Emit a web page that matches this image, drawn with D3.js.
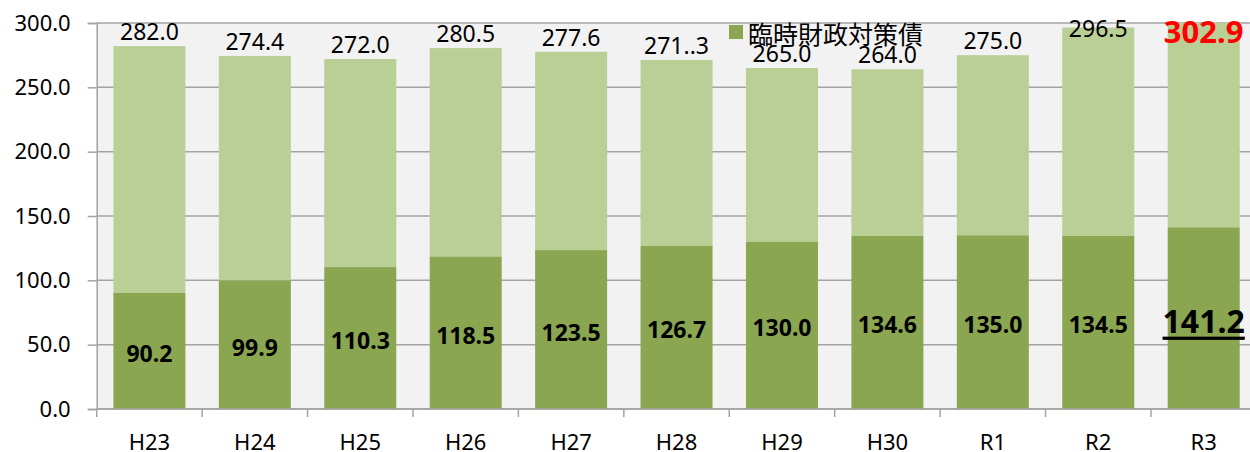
<!DOCTYPE html>
<html>
<head>
<meta charset="utf-8">
<script src="https://cdn.jsdelivr.net/npm/d3@7"></script>
<style>
	body { margin: 0; background: white; }
	svg { display: block; }
</style>
</head>
<body>
<svg></svg>
<script>
// chart data
var categories = ["H23", "H24", "H25", "H26", "H27", "H28", "H29", "H30", "R1", "R2", "R3"];
var bondValues = [90.2, 99.9, 110.3, 118.5, 123.5, 126.7, 130.0, 134.6, 135.0, 134.5, 141.2];
var totalValues = [282.0, 274.4, 272.0, 280.5, 277.6, 271.3, 265.0, 264.0, 275.0, 296.5, 302.9];
var totalLabels = ["282.0", "274.4", "272.0", "280.5", "277.6", "271..3", "265.0", "264.0", "275.0", "296.5", "302.9"];
var yTicks = [0, 50, 100, 150, 200, 250, 300];
var legendLabel = "臨時財政対策債";

var width = 1250, height = 452;
var plotLeft = 96.7, plotTop = 23, plotBottom = 409, plotRight = 1256.4;
var darkGreen = "#8aa651", lightGreen = "#b9cf96", gridColor = "#a3a3a3";
var numFont = "'Noto Sans', 'Liberation Sans', sans-serif";
var last = categories.length - 1;

var svg = d3.select("svg").attr("width", width).attr("height", height);

var x = d3.scaleBand().domain(categories).range([plotLeft, plotRight]).paddingInner(0.317).paddingOuter(0.1585);
var y = d3.scaleLinear().domain([0, 300]).range([plotBottom, plotTop]);

var rows = categories.map(function(c, i){
	return {cat: c, bond: bondValues[i], total: totalValues[i], label: totalLabels[i], i: i};
});

// plot background
svg.append("rect")
	.attr("x", plotLeft).attr("y", plotTop)
	.attr("width", width - plotLeft).attr("height", plotBottom - plotTop)
	.attr("fill", "#f2f2f2");

svg.append("clipPath").attr("id", "plotclip")
	.append("rect")
	.attr("x", plotLeft).attr("y", plotTop)
	.attr("width", width - plotLeft).attr("height", plotBottom - plotTop);

// gridlines
svg.append("g").selectAll("line").data(yTicks).enter().append("line")
	.attr("x1", plotLeft).attr("x2", width)
	.attr("y1", function(d){return y(d)})
	.attr("y2", function(d){return y(d)})
	.attr("stroke", gridColor).attr("stroke-width", 1.5);

// bars
var bars = svg.append("g").attr("clip-path", "url(#plotclip)");
bars.selectAll("rect.total").data(rows).enter().append("rect")
	.attr("class", "total")
	.attr("x", function(d){return x(d.cat)})
	.attr("width", x.bandwidth())
	.attr("y", function(d){return y(d.total)})
	.attr("height", function(d){return y(d.bond) - y(d.total)})
	.attr("fill", lightGreen);
bars.selectAll("rect.bond").data(rows).enter().append("rect")
	.attr("class", "bond")
	.attr("x", function(d){return x(d.cat)})
	.attr("width", x.bandwidth())
	.attr("y", function(d){return y(d.bond)})
	.attr("height", function(d){return y(0) - y(d.bond)})
	.attr("fill", darkGreen);

// y axis
var yAxis = svg.append("g")
	.attr("transform", "translate(" + plotLeft + ",0)")
	.call(d3.axisLeft(y).tickValues(yTicks).tickFormat(d3.format(".1f")).tickSize(9).tickPadding(17));
yAxis.select(".domain").attr("stroke", gridColor).attr("stroke-width", 1.5);
yAxis.selectAll(".tick line").attr("stroke", gridColor).attr("stroke-width", 1.5);
yAxis.selectAll("text")
	.attr("font-family", numFont).attr("font-size", 22).attr("fill", "#000");

// x axis
var xAxis = svg.append("g")
	.attr("transform", "translate(0," + plotBottom + ")")
	.call(d3.axisBottom(x).tickSize(0).tickPadding(25));
xAxis.select(".domain").remove();
xAxis.selectAll("text")
	.attr("font-family", numFont).attr("font-size", 22).attr("fill", "#000");
svg.append("line")
	.attr("x1", plotLeft).attr("x2", width)
	.attr("y1", plotBottom).attr("y2", plotBottom)
	.attr("stroke", gridColor).attr("stroke-width", 1.5);
svg.append("g").selectAll("line").data(categories).enter().append("line")
	.attr("x1", function(d){return x(d) + x.bandwidth() / 2 - x.step() / 2})
	.attr("x2", function(d){return x(d) + x.bandwidth() / 2 - x.step() / 2})
	.attr("y1", plotBottom).attr("y2", plotBottom + 8)
	.attr("stroke", gridColor).attr("stroke-width", 1.5);

// bond value labels (centre of dark segment)
svg.append("g").selectAll("text").data(rows).enter().append("text")
	.text(function(d){return d.bond.toFixed(1)})
	.attr("x", function(d){return x(d.cat) + x.bandwidth() / 2})
	.attr("y", function(d){return (y(0) + y(d.bond)) / 2 + 2})
	.attr("text-anchor", "middle")
	.attr("dominant-baseline", "central")
	.attr("font-family", numFont)
	.attr("font-weight", "bold")
	.attr("font-size", function(d){return d.i == last ? 32 : 23})
	.attr("text-decoration", function(d){return d.i == last ? "underline" : null})
	.attr("fill", "#000");

// total labels above bars
svg.append("g").selectAll("text").data(rows).enter().append("text")
	.text(function(d){return d.label})
	.attr("x", function(d){return x(d.cat) + x.bandwidth() / 2})
	.attr("y", function(d){
		var fs = d.i == last ? 31 : 23;
		return Math.max(y(d.total) - 6, 21 + fs * 0.714);
	})
	.attr("text-anchor", "middle")
	.attr("font-family", numFont)
	.attr("font-weight", function(d){return d.i == last ? "bold" : "normal"})
	.attr("font-size", function(d){return d.i == last ? 31 : 23})
	.attr("fill", function(d){return d.i == last ? "#ff0000" : "#000"});

// legend
var legend = svg.append("g");
legend.append("rect")
	.attr("x", 729).attr("y", 25)
	.attr("width", 14).attr("height", 14)
	.attr("fill", darkGreen);
legend.append("text")
	.text(legendLabel)
	.attr("x", 748).attr("y", 44)
	.attr("font-family", "'Noto Sans CJK JP', sans-serif")
	.attr("font-size", 25)
	.attr("fill", "#000");
</script>
</body>
</html>
